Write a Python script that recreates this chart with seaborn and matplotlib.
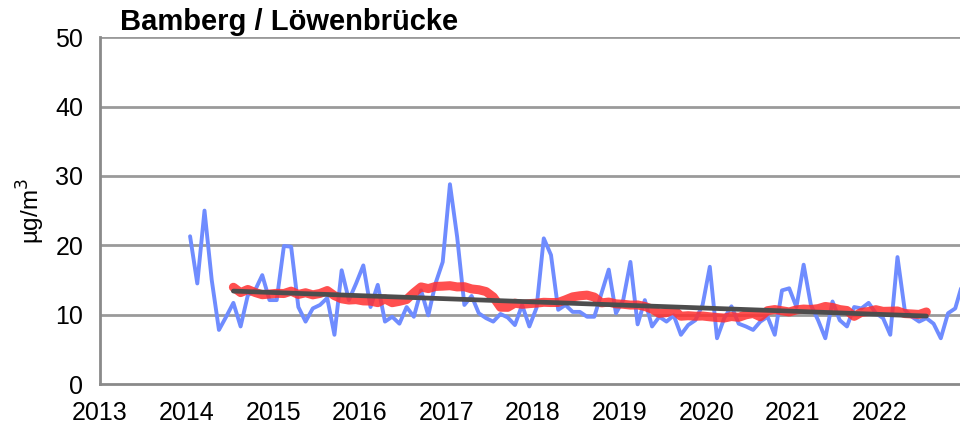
import numpy as np
import pandas as pd
import seaborn as sns
import matplotlib
matplotlib.use("Agg")
import matplotlib.pyplot as plt

# monthly values (Jan 2014 .. Dec 2022), µg/m³
years = list(range(2014, 2023))
monthly = {
    2014: [21.3, 14.5, 25.0, 15.0, 7.8, 9.7, 11.7, 8.3, 12.8, 13.5, 15.7, 12.1],
    2015: [12.1, 19.9, 19.8, 11.1, 9.0, 10.9, 11.4, 12.4, 7.1, 16.4, 12.1, 14.5],
    2016: [17.1, 11.1, 14.3, 9.0, 9.7, 8.7, 11.1, 9.7, 13.5, 9.9, 14.5, 17.6],
    2017: [28.8, 21.2, 11.4, 12.7, 10.2, 9.5, 9.0, 10.1, 9.6, 8.5, 11.4, 8.3],
    2018: [11.0, 21.0, 18.6, 10.7, 11.4, 10.4, 10.4, 9.7, 9.7, 13.1, 16.5, 10.2],
    2019: [12.1, 17.6, 8.6, 12.1, 8.3, 9.7, 9.0, 9.9, 7.1, 8.5, 9.2, 11.4],
    2020: [16.9, 6.6, 9.5, 11.2, 8.7, 8.3, 7.8, 9.0, 9.7, 7.1, 13.5, 13.8],
    2021: [11.1, 17.2, 11.4, 9.2, 6.6, 11.9, 9.2, 8.3, 11.1, 10.9, 11.7, 10.2],
    2022: [9.5, 7.1, 18.3, 10.7, 9.7, 9.0, 9.5, 8.7, 6.6, 10.2, 10.9, 14.5],
}

# trend line end points (Jul 2014 -> Jul 2022)
trend_x = [2014 + 6.5 / 12, 2022 + 6.5 / 12]
trend_y = [13.4, 9.8]

rows = []
for y in years:
    for m, v in enumerate(monthly[y]):
        rows.append({"t": y + (m + 0.5) / 12, "value": v})
df = pd.DataFrame(rows)
# 12-month running mean (red curve)
df["mean12"] = df["value"].rolling(12, center=True).mean()

sns.set_style("white")
plt.rcParams["font.family"] = ["Liberation Sans", "DejaVu Sans"]
plt.rcParams["text.color"] = "black"

fig = plt.figure(figsize=(9.6, 4.32), dpi=100)
ax = fig.add_axes([0.104, 0.111, 0.896, 0.803])

for yv in [10, 20, 30, 40, 50]:
    ax.axhline(yv, color="#9a9a9a", lw=2.0, zorder=0)

sns.lineplot(data=df, x="t", y="value", color="#6f8cff", lw=2.8, ax=ax, zorder=2)
sns.lineplot(data=df.dropna(), x="t", y="mean12", color="#ff3030", lw=6.5, alpha=0.85,
             ax=ax, zorder=3)
sns.lineplot(x=trend_x, y=trend_y, color="#4d4d4d", lw=3.4, ax=ax, zorder=4)

ax.set_xlim(2013, 2022.93)
ax.set_ylim(0, 50)
ax.set_xticks(range(2013, 2023))
ax.set_yticks([0, 10, 20, 30, 40, 50])
ax.tick_params(axis="both", labelsize=18, colors="#8a8a8a", labelcolor="black",
               direction="out", length=7, width=1.8, pad=5)
for s in ["top", "right"]:
    ax.spines[s].set_visible(False)
for s in ["left", "bottom"]:
    ax.spines[s].set_color("#8a8a8a")
    ax.spines[s].set_linewidth(2.0)

ax.set_xlabel("")
ax.set_ylabel("µg/m$^3$", fontsize=17.5, labelpad=6, color="black")
ax.text(0.024, 1.02, "Bamberg / Löwenbrücke", transform=ax.transAxes,
        fontsize=21, fontweight="bold", ha="left", va="baseline", color="black")

fig.savefig("out.png", dpi=100)
